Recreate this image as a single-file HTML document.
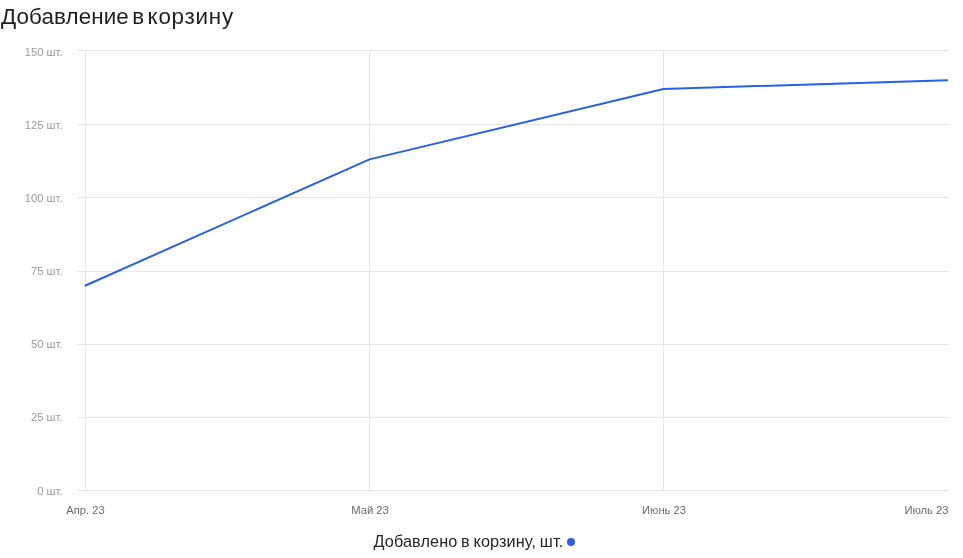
<!DOCTYPE html>
<html lang="ru">
<head>
<meta charset="utf-8">
<title>Добавление в корзину</title>
<style>
html,body{margin:0;padding:0;background:#fff;}
body{width:963px;height:558px;position:relative;overflow:hidden;font-family:"Liberation Sans",sans-serif;}
#title{position:absolute;left:1px;top:4px;font-size:22.4px;line-height:26px;color:#1f1f1f;white-space:nowrap;word-spacing:-2.8px;}
svg{position:absolute;left:0;top:0;}
.yl{position:absolute;right:900.5px;font-size:11.2px;line-height:12px;color:#999;white-space:nowrap;}
.xl{position:absolute;top:504px;font-size:11.2px;line-height:12px;color:#6b6b6b;white-space:nowrap;transform:translateX(-50%);}
#legend{position:absolute;left:373.5px;top:531px;font-size:16.25px;line-height:20px;color:#262626;white-space:nowrap;letter-spacing:.1px;word-spacing:-.9px;}
#dot{position:absolute;left:567px;top:538px;width:8px;height:8px;border-radius:50%;background:#2860ea;}
</style>
</head>
<body>
<div id="title"><span style="letter-spacing:.1px">Добавление</span> в <span style="letter-spacing:.75px">корзину</span></div>
<svg width="963" height="558" viewBox="0 0 963 558">
<g fill="#e6e6e6" shape-rendering="crispEdges">
<rect x="77" y="50" width="871" height="1"/>
<rect x="77" y="124" width="871" height="1"/>
<rect x="77" y="197" width="871" height="1"/>
<rect x="77" y="271" width="871" height="1"/>
<rect x="77" y="344" width="871" height="1"/>
<rect x="77" y="417" width="871" height="1"/>
<rect x="77" y="490" width="871" height="1"/>
<rect x="85" y="50" width="1" height="441"/>
<rect x="369" y="50" width="1" height="441"/>
<rect x="663" y="50" width="1" height="441"/>
</g>
<clipPath id="c"><rect x="0" y="0" width="948" height="558"/></clipPath>
<polyline clip-path="url(#c)" fill="none" stroke="#2860ea" stroke-width="2" stroke-linejoin="round" stroke-linecap="round" points="85.5,285.5 369.5,159.35 663.5,88.95 949,80.1"/>
</svg>
<div class="yl" style="top:46px">150 шт.</div>
<div class="yl" style="top:119px">125 шт.</div>
<div class="yl" style="top:192px">100 шт.</div>
<div class="yl" style="top:265px">75 шт.</div>
<div class="yl" style="top:338px">50 шт.</div>
<div class="yl" style="top:411px">25 шт.</div>
<div class="yl" style="top:485px">0 шт.</div>
<div class="xl" style="left:85.5px">Апр. 23</div>
<div class="xl" style="left:370px">Май 23</div>
<div class="xl" style="left:664px">Июнь 23</div>
<div class="xl" style="left:948.5px;transform:translateX(-100%)">Июль 23</div>
<div id="legend">Добавлено в корзину, шт.</div>
<div id="dot"></div>
</body>
</html>
